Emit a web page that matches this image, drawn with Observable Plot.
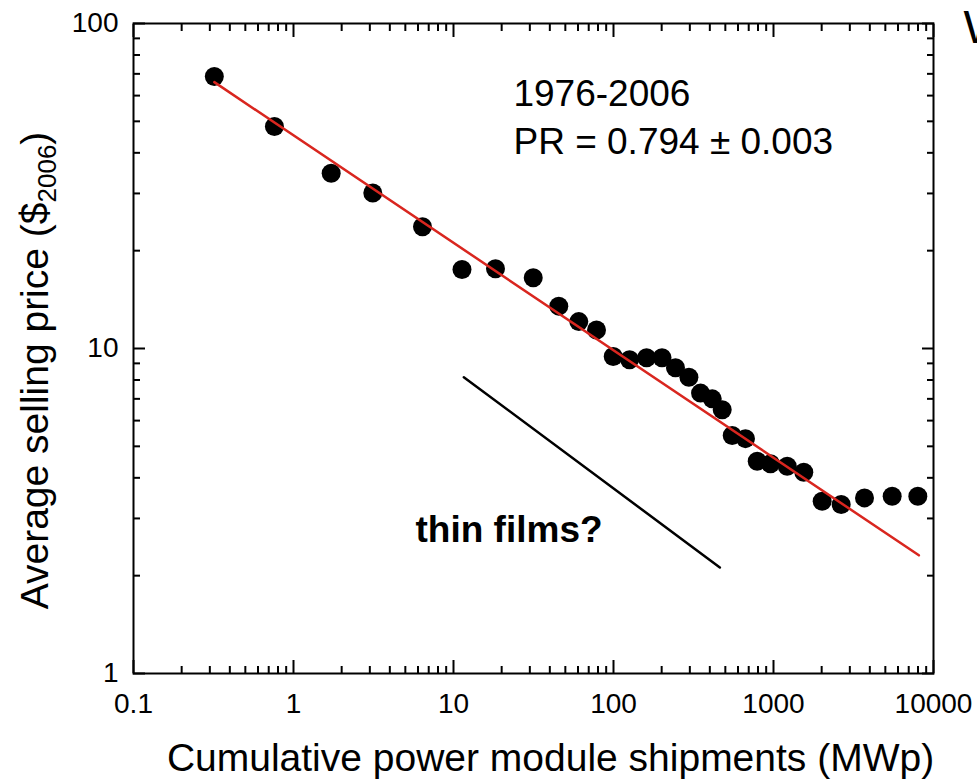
<!DOCTYPE html>
<html>
<head>
<meta charset="utf-8">
<script src="https://cdn.jsdelivr.net/npm/d3@7"></script>
<script src="https://cdn.jsdelivr.net/npm/@observablehq/plot@0.6"></script>
<style>
  html, body { margin: 0; padding: 0; background: #fff; }
</style>
</head>
<body>
<div id="chart"></div>
<script>
// Cumulative shipments (MWp), 1976-2006
const shipments = [0.32, 0.76, 1.72, 3.13, 6.4, 11.3, 18.3, 31.5, 45.5, 60.7, 78.3, 99.6, 126, 161, 201, 244, 296, 350, 414, 478, 552, 668, 791, 958, 1218, 1546, 2015, 2648, 3705, 5517, 7980];
// Average selling price ($2006)
const prices = [68.7, 48.2, 34.6, 30.1, 23.7, 17.5, 17.6, 16.5, 13.5, 12.1, 11.4, 9.45, 9.23, 9.36, 9.36, 8.72, 8.16, 7.29, 7.0, 6.48, 5.40, 5.28, 4.50, 4.42, 4.34, 4.16, 3.39, 3.31, 3.47, 3.51, 3.51];

// Experience-curve fit (PR = 0.794) endpoints
const fitX = [0.32, 8100];
const fitY = [66, 2.31];

// "thin films?" guide line endpoints
const thinX = [11.6, 462];
const thinY = [8.16, 2.12];

// Axis ticks
const xMajorTicks = [0.1, 1, 10, 100, 1000, 10000];
const xTickLabels = ["0.1", "1", "10", "100", "1000", "10000"];
const xMinorTicks = [0.2, 0.3, 0.4, 0.5, 0.6, 0.7, 0.8, 0.9,
  2, 3, 4, 5, 6, 7, 8, 9,
  20, 30, 40, 50, 60, 70, 80, 90,
  200, 300, 400, 500, 600, 700, 800, 900,
  2000, 3000, 4000, 5000, 6000, 7000, 8000, 9000];
const yMajorTicks = [1, 10, 100];
const yTickLabels = ["1", "10", "100"];
const yMinorTicks = [2, 3, 4, 5, 6, 7, 8, 9, 20, 30, 40, 50, 60, 70, 80, 90];

// Annotations
const annX = [23.7, 23.7];
const annY = [55.9, 39.8];
const annText = ["1976-2006", "PR = 0.794 \u00b1 0.003"];
const thinLabel = {x: 5.79, y: 2.53, text: "thin films?"};

const xTitle = "Cumulative power module shipments (MWp)";
const yTitle = "Average selling price ($2006)";

const points = shipments.map((x, i) => ({x, y: prices[i]}));
const fit = fitX.map((x, i) => ({x, y: fitY[i]}));
const thin = thinX.map((x, i) => ({x, y: thinY[i]}));
const ann = annText.map((t, i) => ({x: annX[i], y: annY[i], text: t}));

const font = "'Liberation Sans', Arial, Helvetica, sans-serif";

const svg = Plot.plot({
  width: 977,
  height: 782,
  marginTop: 23,
  marginBottom: 109,
  marginLeft: 133,
  marginRight: 44,
  style: {fontFamily: font, fontSize: "28px", background: "white", color: "black"},
  x: {type: "log", domain: [0.1, 10000], label: null},
  y: {type: "log", domain: [1, 100], label: null},
  marks: [
    Plot.dot(points, {x: "x", y: "y", r: 9.5, fill: "black", stroke: "none"}),
    Plot.line(fit, {x: "x", y: "y", stroke: "#d9261f", strokeWidth: 2.5}),
    Plot.line(thin, {x: "x", y: "y", stroke: "black", strokeWidth: 2.5}),
    // bottom axis
    Plot.axisX(xMajorTicks, {anchor: "bottom", tickSize: -13, tickPadding: 33, strokeWidth: 2,
      tickFormat: d => xTickLabels[xMajorTicks.indexOf(d)], label: null}),
    Plot.axisX(xMinorTicks, {anchor: "bottom", tickSize: -7, strokeWidth: 2, fill: "none", label: null}),
    // top axis
    Plot.axisX(xMajorTicks, {anchor: "top", tickSize: -13, strokeWidth: 2, fill: "none", label: null}),
    Plot.axisX(xMinorTicks, {anchor: "top", tickSize: -7, strokeWidth: 2, fill: "none", label: null}),
    // left axis
    Plot.axisY(yMajorTicks, {anchor: "left", tickSize: -12, tickPadding: 27, strokeWidth: 2,
      tickFormat: d => yTickLabels[yMajorTicks.indexOf(d)], label: null}),
    Plot.axisY(yMinorTicks, {anchor: "left", tickSize: -7, strokeWidth: 2, fill: "none", label: null}),
    // right axis
    Plot.axisY(yMajorTicks, {anchor: "right", tickSize: -12, strokeWidth: 2, fill: "none", label: null}),
    Plot.axisY(yMinorTicks, {anchor: "right", tickSize: -7, strokeWidth: 2, fill: "none", label: null}),
    Plot.frame({stroke: "black", strokeWidth: 2}),
    // annotations
    Plot.text(ann, {x: "x", y: "y", text: "text", textAnchor: "start", lineAnchor: "bottom", fontSize: 37, fill: "black"}),
    Plot.text([thinLabel], {x: "x", y: "y", text: "text", textAnchor: "start", lineAnchor: "bottom", fontSize: 37, fontWeight: "bold", fill: "black"}),
    // cut-off text at top right
    Plot.text(["W"], {frameAnchor: "top-right", dx: 30, dy: 19, textAnchor: "start", lineAnchor: "bottom", fontSize: 47, fill: "black"}),
    // axis titles
    Plot.text([xTitle], {frameAnchor: "bottom", dx: 17, dy: 97, textAnchor: "middle", lineAnchor: "bottom", fontSize: 39, fill: "black"}),
    Plot.text([yTitle], {frameAnchor: "left", dx: -86, dy: 22, rotate: -90, textAnchor: "middle", lineAnchor: "bottom", fontSize: 39, fill: "black"})
  ]
});

// Tick label size
d3.select(svg).selectAll('g[aria-label$="tick label"]').attr("font-size", 28).style("font-size", "28px");

// Render the subscript in the y title
d3.select(svg).selectAll("text").filter(function() { return this.textContent === yTitle; }).each(function() {
  const t = d3.select(this);
  t.text(null);
  t.append("tspan").text("Average selling price ($");
  t.append("tspan").attr("dy", 8).attr("font-size", 26).text("2006");
  t.append("tspan").attr("dy", -8).text(")");
});

document.getElementById("chart").appendChild(svg);
</script>
</body>
</html>
